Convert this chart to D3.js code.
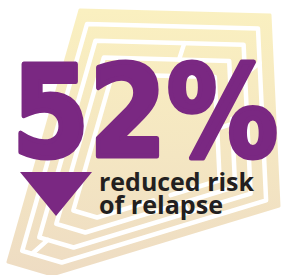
<!DOCTYPE html>
<html>
<head>
<meta charset="utf-8">
<script src="https://cdn.jsdelivr.net/npm/d3@7/dist/d3.min.js"></script>
<style>
  html, body { margin: 0; padding: 0; background: #fff; }
  svg { display: block; }
</style>
</head>
<body>
<div class="chart"></div>
<script>
var svgWidth = 283;
var svgHeight = 275;

// Headline figure and caption
var statValue = [52];
var statUnit = ["%"];
var captionLines = ["reduced risk", "of relapse"];

// Background maze outline (decoration) and inset levels
var mazeOutline = [[80, 10], [270, 15], [279, 206], [52, 275], [8, 262]];
var mazeCenter = [150, 150];
var mazeInsets = [0.10, 0.22, 0.34, 0.46];
var mazeGapAt = [0.86, 0.80, 0.30, 0.55];

var purple = "#7a2882";
var ink = "#231f20";

var svg = d3.select(".chart")
  .append("svg")
  .attr("width", svgWidth)
  .attr("height", svgHeight);

// gradient for the maze
var defs = svg.append("defs");
var grad = defs.append("linearGradient")
  .attr("id", "mazeFill")
  .attr("x1", 0).attr("y1", 0).attr("x2", 0).attr("y2", 1);
grad.append("stop").attr("offset", "0%").attr("stop-color", "#faf0c0");
grad.append("stop").attr("offset", "55%").attr("stop-color", "#f4e6c2");
grad.append("stop").attr("offset", "100%").attr("stop-color", "#eedcc3");

var mazeGroup = svg.append("g");

var line = d3.line();

mazeGroup.append("path")
  .attr("d", line(mazeOutline) + "Z")
  .attr("fill", "url(#mazeFill)")
  .attr("stroke", "url(#mazeFill)")
  .attr("stroke-width", 3)
  .attr("stroke-linejoin", "round");

function inset(t) {
  return mazeOutline.map(function(p) {
    return [p[0] + (mazeCenter[0] - p[0]) * t, p[1] + (mazeCenter[1] - p[1]) * t];
  });
}

// white channels, each with an opening
mazeInsets.forEach(function(t, i) {
  var pts = inset(t);
  var path = mazeGroup.append("path")
    .attr("d", line(pts) + "Z")
    .attr("fill", "none")
    .attr("stroke", "#fff")
    .attr("stroke-width", 4.5)
    .attr("stroke-linecap", "round")
    .attr("stroke-linejoin", "round");
  var len = path.node().getTotalLength();
  var gap = 18;
  path.attr("stroke-dasharray", (len - gap) + " " + gap)
    .attr("stroke-dashoffset", -len * mazeGapAt[i]);
});

// a few short walls linking neighbouring channels
var walls = [[0, 1, 1, 0.2], [1, 2, 0, 0.6], [0, 1, 3, 0.75], [2, 3, 1, 0.5], [1, 2, 2, 0.35], [0, 1, 4, 0.3]];
walls.forEach(function(w) {
  var a = inset(mazeInsets[w[0]]), b = inset(mazeInsets[w[1]]);
  var s = w[2], e = (s + 1) % mazeOutline.length, f = w[3];
  var pa = [a[s][0] + (a[e][0] - a[s][0]) * f, a[s][1] + (a[e][1] - a[s][1]) * f];
  var pb = [b[s][0] + (b[e][0] - b[s][0]) * f, b[s][1] + (b[e][1] - b[s][1]) * f];
  mazeGroup.append("path")
    .attr("d", line([pa, pb]))
    .attr("stroke", "#fff")
    .attr("stroke-width", 4.5)
    .attr("stroke-linecap", "round");
});

// headline number
svg.append("text")
  .attr("x", 12)
  .attr("y", 156)
  .attr("font-family", "DejaVu Sans, sans-serif")
  .attr("font-weight", "bold")
  .attr("font-size", 126)
  .attr("fill", purple)
  .attr("stroke", purple)
  .attr("stroke-width", 5)
  .attr("stroke-linejoin", "round")
  .attr("textLength", 266)
  .attr("lengthAdjust", "spacingAndGlyphs")
  .text(statValue[0] + statUnit[0]);

// down arrow
var arrow = d3.path();
arrow.moveTo(20, 172);
arrow.lineTo(92, 172);
arrow.lineTo(56, 216);
arrow.closePath();
svg.append("path")
  .attr("d", arrow.toString())
  .attr("fill", purple);

// caption
var captionY = d3.scalePoint().domain(captionLines).range([191, 214]);
var captionWidth = [155, 124];
svg.selectAll(".caption")
  .data(captionLines)
  .enter()
  .append("text")
  .attr("class", "caption")
  .attr("x", 99)
  .attr("y", function(d) { return captionY(d); })
  .attr("font-family", "Open Sans, sans-serif")
  .attr("font-weight", 700)
  .attr("font-size", 25)
  .attr("fill", ink)
  .attr("textLength", function(d, i) { return captionWidth[i]; })
  .attr("lengthAdjust", "spacingAndGlyphs")
  .text(function(d) { return d; });
</script>
</body>
</html>
